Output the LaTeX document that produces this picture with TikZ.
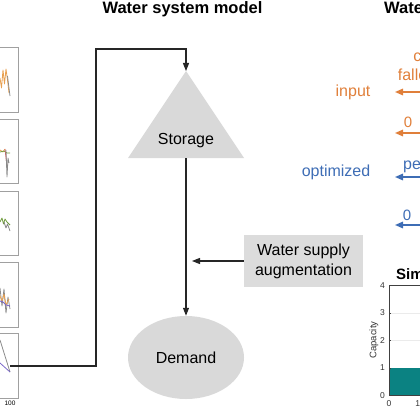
\documentclass[tikz,border=0pt]{standalone}
\usepackage{fontspec}
\setmainfont{Liberation Sans}
\usetikzlibrary{shapes.geometric,arrows.meta}
\definecolor{shapegray}{HTML}{D9D9D9}
\definecolor{boxgray}{HTML}{DCDCDC}
\definecolor{lineblack}{HTML}{262626}
\definecolor{inorange}{HTML}{E07F3A}
\definecolor{optblue}{HTML}{3E6DB5}
\definecolor{barteal}{HTML}{0B8282}
\definecolor{framegray}{HTML}{A0A0A0}
\definecolor{porange}{HTML}{E8A050}
\definecolor{pgreen}{HTML}{6E9A3C}
\definecolor{ppurple}{HTML}{7B68C8}
\definecolor{pgray}{HTML}{8A8A8A}
\definecolor{pred}{HTML}{D06060}
\tikzset{
  conn/.style={draw=lineblack, line width=1.1pt},
  conntip/.style={conn, -{Triangle[length=8pt,width=6pt]}},
  sidearrow/.style={line width=1.6pt, -{Triangle[length=8pt,width=6.5pt]}},
  labeltext/.style={font=\fontsize{16}{19}\selectfont, inner sep=0pt},
  zerotext/.style={font=\fontsize{15}{18}\selectfont, inner sep=0pt},
  plotframe/.style={draw=framegray, line width=0.9pt},
  squiggle/.style={line width=0.8pt, line join=round},
  ticktext/.style={font=\fontsize{8.5}{10}\selectfont, inner sep=0pt, text=black!80},
}
\begin{document}
\begin{tikzpicture}[x=1pt,y=-1pt]
\useasboundingbox (0,0) rectangle (420,420);
\clip (0,0) rectangle (420,420);

% titles
\node[font=\fontsize{16.5}{19}\selectfont\bfseries, anchor=base, inner sep=0pt] (title) at (182.5,13.5) {Water system model};
\node[font=\fontsize{16.5}{19}\selectfont\bfseries, anchor=base west, inner sep=0pt] (title2) at (384,13.5) {Water};

% left plot panels (partly visible)
\foreach \t/\b in {47/112, 119/183, 191/255, 262/327, 333/398}{
  \draw[plotframe] (-5,\t) rectangle (18.5,\b);
}
\draw[squiggle, porange] (0,78) -- (1.5,88) -- (3,70) -- (4.5,84) -- (6,69) -- (7.5,80) -- (9,93);
\draw[squiggle, pgray] (7.5,76) -- (10,96);
\draw[squiggle, porange] (0,150) -- (3,152) -- (5,149);
\draw[squiggle, pgreen] (0,152) -- (4,151) -- (7,153) -- (10,153);
\draw[squiggle, pred] (5,149) -- (7,166);
\draw[squiggle, pgray] (6,150) -- (7,177) -- (8,158) -- (9,163);
\draw[squiggle, pgreen] (0,222) -- (2,218) -- (3.5,224) -- (5,219) -- (7,222) -- (10,225);
\draw[squiggle, pgray] (4,222) -- (6,228) -- (7.5,224) -- (10,231);
\draw[squiggle, pgray] (0,288) -- (2,306) -- (4,289) -- (6,313) -- (8,297) -- (10,309);
\draw[squiggle, porange] (0,296) -- (2,301) -- (4,294) -- (6,305) -- (9,299);
\draw[squiggle, ppurple] (0,301) -- (3,302) -- (6,305) -- (10,306);
\draw[squiggle, pgray] (0,340) -- (10,372);
\draw[squiggle, ppurple] (0,363) -- (10,372);
\node[font=\fontsize{6.5}{8}\selectfont, inner sep=0pt] (xlab100) at (10,403) {100};

% storage triangle
\coordinate (apex) at (186,71);
\coordinate (baseL) at (128,158);
\coordinate (baseR) at (244,158);
\coordinate (stbase) at (186,158);
\fill[shapegray] (apex) -- (baseR) -- (baseL) -- cycle;
\node[labeltext, anchor=base] (storage) at (186,144) {Storage};

% demand ellipse
\node[ellipse, fill=shapegray, minimum width=116pt, minimum height=83pt, inner sep=0pt, font=\fontsize{16}{19}\selectfont] (demand) at (186,357.5) {Demand};

% augmentation box
\node[fill=boxgray, minimum width=119pt, minimum height=52pt, inner sep=0pt, align=center, font=\fontsize{16}{20}\selectfont] (aug) at (303.5,261) {Water supply\\augmentation};
\coordinate (augtip) at (192,261);

% connectors
\coordinate (p5) at (10,366);
\coordinate (bend) at (96,49);
\draw[conntip] (p5) -| (bend) -| (apex);
\draw[conntip] (stbase) -- (demand.north);
\draw[conntip] (aug.west) -- (augtip);

% right side: inputs
\node[labeltext, text=inorange, anchor=base] (input) at (353,96) {input};
\node[labeltext, text=inorange, anchor=base] (crop1) at (429,62) {crop};
\node[labeltext, text=inorange, anchor=base] (crop2) at (429,80) {fallowing};
\coordinate (o1s) at (430,92);
\coordinate (o1e) at (395,92);
\draw[sidearrow, inorange] (o1s) -- (o1e);
\node[zerotext, text=inorange, anchor=base] (zeroA) at (408,127) {0};
\coordinate (o2s) at (430,133);
\coordinate (o2e) at (395,133);
\draw[sidearrow, inorange] (o2s) -- (o2e);

\node[labeltext, text=optblue, anchor=base] (opt) at (336,176) {optimized};
\node[labeltext, text=optblue, anchor=base west] (peak) at (403,169) {peak};
\coordinate (b1s) at (430,177);
\coordinate (b1e) at (395,177);
\draw[sidearrow, optblue] (b1s) -- (b1e);
\node[zerotext, text=optblue, anchor=base] (zeroB) at (407,220) {0};
\coordinate (b2s) at (430,225);
\coordinate (b2e) at (395,225);
\draw[sidearrow, optblue] (b2s) -- (b2e);

% bar chart (partly visible)
\node[font=\fontsize{15}{18}\selectfont\bfseries, anchor=base west, inner sep=0pt] (simtitle) at (396,279) {Simulated};
\foreach \v/\y in {1/368, 2/340.5, 3/313, 4/285.5}{
  \draw[black!8, line width=0.5pt] (389,\y) -- (425,\y);
}
\fill[barteal] (389,368) rectangle (425,395.5);
\draw[black!75, line width=0.6pt] (389,285.5) -- (389,395.5) -- (425,395.5);
\draw[black!75, line width=0.6pt] (389,285.5) -- (425,285.5);
\foreach \v/\y in {0/395.5, 1/368, 2/340.5, 3/313, 4/285.5}{
  \draw[black!75, line width=0.5pt] (389,\y) -- (391,\y);
  \node[ticktext, anchor=east] (yt\v) at (385,\y) {\v};
}
\node[ticktext, anchor=north] (xt0) at (389,400) {0};
\node[ticktext, anchor=north] (xt10) at (420,400) {10};
\node[font=\fontsize{9.5}{11}\selectfont, rotate=90, inner sep=0pt, text=black!80] (cap) at (374,340) {Capacity};
\end{tikzpicture}
\end{document}
